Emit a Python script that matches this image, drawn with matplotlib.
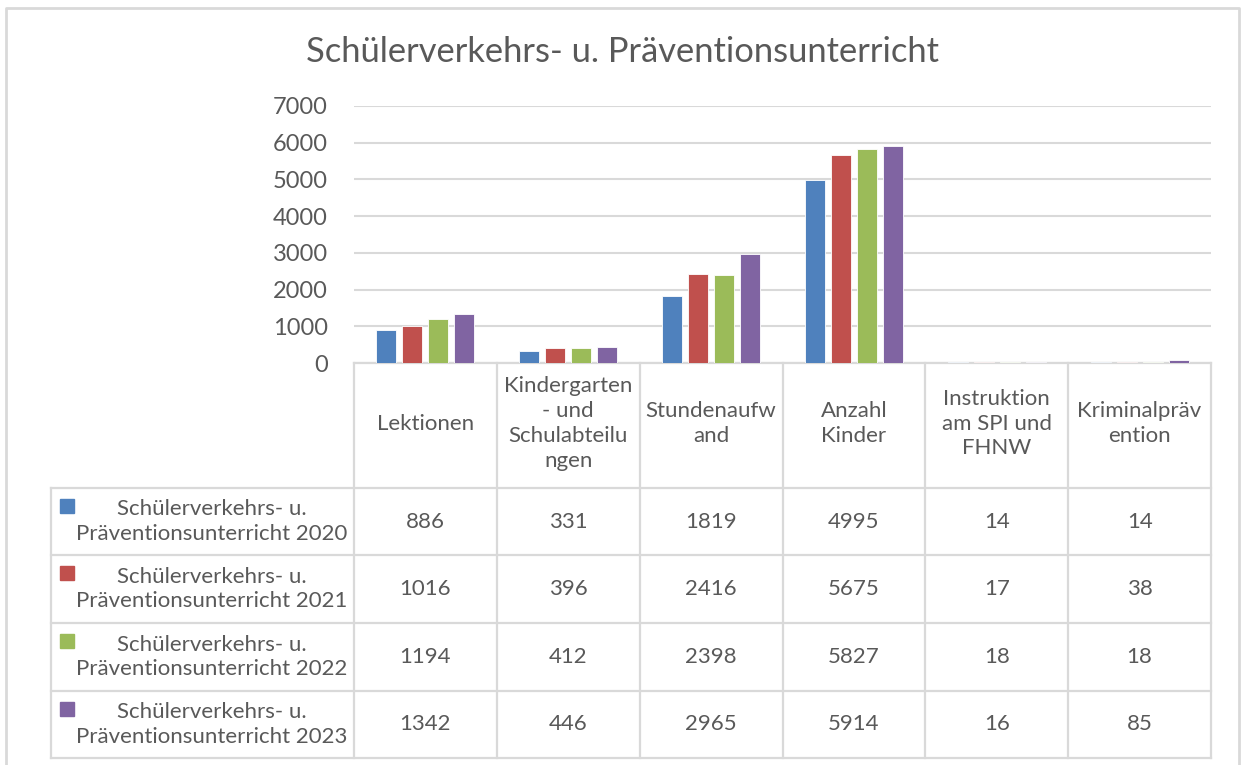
import matplotlib
matplotlib.use("Agg")
import matplotlib.pyplot as plt
from matplotlib.patches import Rectangle
import numpy as np

plt.rcParams["font.family"] = ["Lato", "DejaVu Sans"]

categories = ["Lektionen", "Kindergarten\n- und\nSchulabteilu\nngen", "Stundenaufw\nand",
              "Anzahl\nKinder", "Instruktion\nam SPI und\nFHNW", "Kriminalpräv\nention"]
series_names = ["Schülerverkehrs- u.\nPräventionsunterricht 2020",
                "Schülerverkehrs- u.\nPräventionsunterricht 2021",
                "Schülerverkehrs- u.\nPräventionsunterricht 2022",
                "Schülerverkehrs- u.\nPräventionsunterricht 2023"]
v2020 = [886, 331, 1819, 4995, 14, 14]
v2021 = [1016, 396, 2416, 5675, 17, 38]
v2022 = [1194, 412, 2398, 5827, 18, 18]
v2023 = [1342, 446, 2965, 5914, 16, 85]
values = [v2020, v2021, v2022, v2023]
colors = ["#4F81BD", "#C0504D", "#9BBB59", "#8064A2"]
title = "Schülerverkehrs- u. Präventionsunterricht"

TXT = "#595959"
GRID = "#D9D9D9"
W, H = 1242, 765
fig = plt.figure(figsize=(W / 100, H / 100), dpi=100)

# pixel-coordinate overlay for frame / table
ov = fig.add_axes([0, 0, 1, 1])
ov.set_xlim(0, W); ov.set_ylim(H, 0); ov.axis("off")

# plot area in pixels
x0, x1, y_top, y_zero = 354, 1211, 106, 363
ax = fig.add_axes([x0 / W, (H - y_zero) / H, (x1 - x0) / W, (y_zero - y_top) / H])
n = len(categories)
x = np.arange(n)
bw, step = 0.14, 0.182
for i, (vals, c) in enumerate(zip(values, colors)):
    ax.bar(x + (i - 1.5) * step, vals, bw, color=c, edgecolor="white", linewidth=0.6, zorder=3)
ax.set_xlim(-0.5, n - 0.5)
ax.set_ylim(0, 7000)
ax.set_yticks(range(0, 7001, 1000))
ax.yaxis.grid(True, color=GRID, linewidth=1.5, zorder=0)
ax.tick_params(axis="y", length=0, labelsize=17, labelcolor=TXT, pad=19)
ax.set_xticks([])
for s in ax.spines.values():
    s.set_visible(False)
ax.set_facecolor("none")

# outer frame
ov.plot([6, 6, 1239, 1239], [H, 8, 8, H], color=GRID, lw=2)

fig.text(622 / W, 1 - 52 / H, title, ha="center", va="center", fontsize=24.8, color=TXT)

# data table
col_x = np.linspace(x0, x1, n + 1)
row_y = [363, 488, 555, 623, 691, 758]
lkw = dict(color=GRID, lw=1.6, zorder=1)
ov.plot([x0, x1], [row_y[0], row_y[0]], **lkw)
for yy in row_y[1:]:
    ov.plot([51, x1], [yy, yy], **lkw)
for xx in col_x:
    ov.plot([xx, xx], [row_y[0], row_y[-1]], **lkw)
ov.plot([51, 51], [row_y[1], row_y[-1]], **lkw)

for j, cat in enumerate(categories):
    cx = (col_x[j] + col_x[j + 1]) / 2
    ov.text(cx, (row_y[0] + row_y[1]) / 2 - 2, cat, ha="center", va="center",
            fontsize=16, color=TXT, linespacing=1.3)

for i, (name, vals, c) in enumerate(zip(series_names, values, colors)):
    top, bot = row_y[i + 1], row_y[i + 2]
    cy = (top + bot) / 2
    ov.add_patch(Rectangle((60, top + 11), 14, 14, color=c))
    ov.text(212, cy, name, ha="center", va="center", fontsize=16, color=TXT, linespacing=1.3)
    for j, v in enumerate(vals):
        cx = (col_x[j] + col_x[j + 1]) / 2
        ov.text(cx, cy, str(v), ha="center", va="center", fontsize=16, color=TXT)

fig.savefig("out.png", dpi=100)
